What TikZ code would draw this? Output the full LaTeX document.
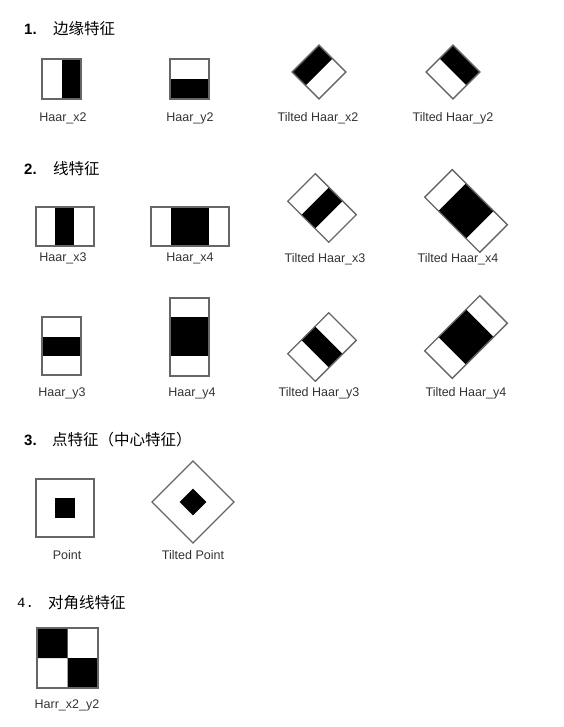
\documentclass[tikz,border=0pt]{standalone}
\usepackage{fontspec}
\setmainfont{Liberation Sans}
\newfontfamily\cjk{Noto Sans CJK SC}
\newfontfamily\numfont{Liberation Mono}
\tikzset{
  outline/.style={draw=black!60, line width=1.3pt},
  lbl/.style={text=black!80, inner sep=0pt, font=\fontsize{12.5}{14}\selectfont},
  head/.style={anchor=west, inner sep=0pt, font=\cjk\fontsize{15.5}{18}\selectfont},
  num/.style={anchor=west, inner sep=0pt, font=\bfseries\fontsize{15}{18}\selectfont},
}
\begin{document}
\begin{tikzpicture}[x=1pt, y=-1pt]
\useasboundingbox (0,0) rectangle (563,727);

\node[num] (n1) at (24,29) {1.};
\node[head] (h1) at (53,29) {边缘特征};
\fill (62,59) rectangle (81,99);
\draw[outline] (42,59) rectangle (81,99);
\fill (170,79) rectangle (209,99);
\draw[outline] (170,59) rectangle (209,99);
\begin{scope}[shift={(319,72)}, rotate=-45]
\fill (-19,-19) rectangle (0,19);
\draw[outline] (-19,-19) rectangle (19,19);
\end{scope}
\begin{scope}[shift={(453,72)}, rotate=-45]
\fill (-19,-19) rectangle (19,0);
\draw[outline] (-19,-19) rectangle (19,19);
\end{scope}
\node[lbl] (hx2) at (63,118) {Haar\_x2};
\node[lbl] (hy2) at (190,118) {Haar\_y2};
\node[lbl] (thx2) at (318,118) {Tilted Haar\_x2};
\node[lbl] (thy2) at (453,118) {Tilted Haar\_y2};

\node[num] (n2) at (24,169) {2.};
\node[head] (h2) at (53,169) {线特征};
\fill (55,207) rectangle (74,246);
\draw[outline] (36,207) rectangle (94,246);
\fill (171,207) rectangle (209,246);
\draw[outline] (151,207) rectangle (229,246);
\begin{scope}[shift={(322,208)}, rotate=-45]
\fill (-9.7,-19.5) rectangle (9.7,19.5);
\draw[outline] (-29,-19.5) rectangle (29,19.5);
\end{scope}
\begin{scope}[shift={(466,211)}, rotate=-45]
\fill (-19.5,-19.5) rectangle (19.5,19.5);
\draw[outline] (-39,-19.5) rectangle (39,19.5);
\end{scope}
\node[lbl] (hx3) at (63,258) {Haar\_x3};
\node[lbl] (hx4) at (190,258) {Haar\_x4};
\node[lbl] (thx3) at (325,259) {Tilted Haar\_x3};
\node[lbl] (thx4) at (458,259) {Tilted Haar\_x4};

\fill (42,337) rectangle (81,356);
\draw[outline] (42,317) rectangle (81,375);
\fill (170,317) rectangle (209,356);
\draw[outline] (170,298) rectangle (209,376);
\begin{scope}[shift={(322,347)}, rotate=-45]
\fill (-19.5,-9.7) rectangle (19.5,9.7);
\draw[outline] (-19.5,-29) rectangle (19.5,29);
\end{scope}
\begin{scope}[shift={(466,337)}, rotate=-45]
\fill (-19.5,-19.5) rectangle (19.5,19.5);
\draw[outline] (-19.5,-39) rectangle (19.5,39);
\end{scope}
\node[lbl] (hy3) at (62,393) {Haar\_y3};
\node[lbl] (hy4) at (192,393) {Haar\_y4};
\node[lbl] (thy3) at (319,393) {Tilted Haar\_y3};
\node[lbl] (thy4) at (466,393) {Tilted Haar\_y4};

\node[num] (n3) at (24,440) {3.};
\node[head] (h3) at (52,440) {点特征（中心特征）};
\fill (55,498) rectangle (75,518);
\draw[outline] (36,479) rectangle (94,537);
\begin{scope}[shift={(193,502)}, rotate=45]
\fill (-9.5,-9.5) rectangle (9.5,9.5);
\draw[outline] (-29,-29) rectangle (29,29);
\end{scope}
\node[lbl] (pt) at (67,555) {Point};
\node[lbl] (tpt) at (193,555) {Tilted Point};

\node[anchor=west, inner sep=0pt, font=\numfont\fontsize{14}{16}\selectfont] (n4) at (17,603) {4.};
\node[head] (h4) at (48,603) {对角线特征};
\fill (37,628) rectangle (67.5,658) (67.5,658) rectangle (98,688);
\draw[outline] (37,628) rectangle (98,688);
\node[lbl] (hxy) at (67,705) {Harr\_x2\_y2};
\end{tikzpicture}
\end{document}
